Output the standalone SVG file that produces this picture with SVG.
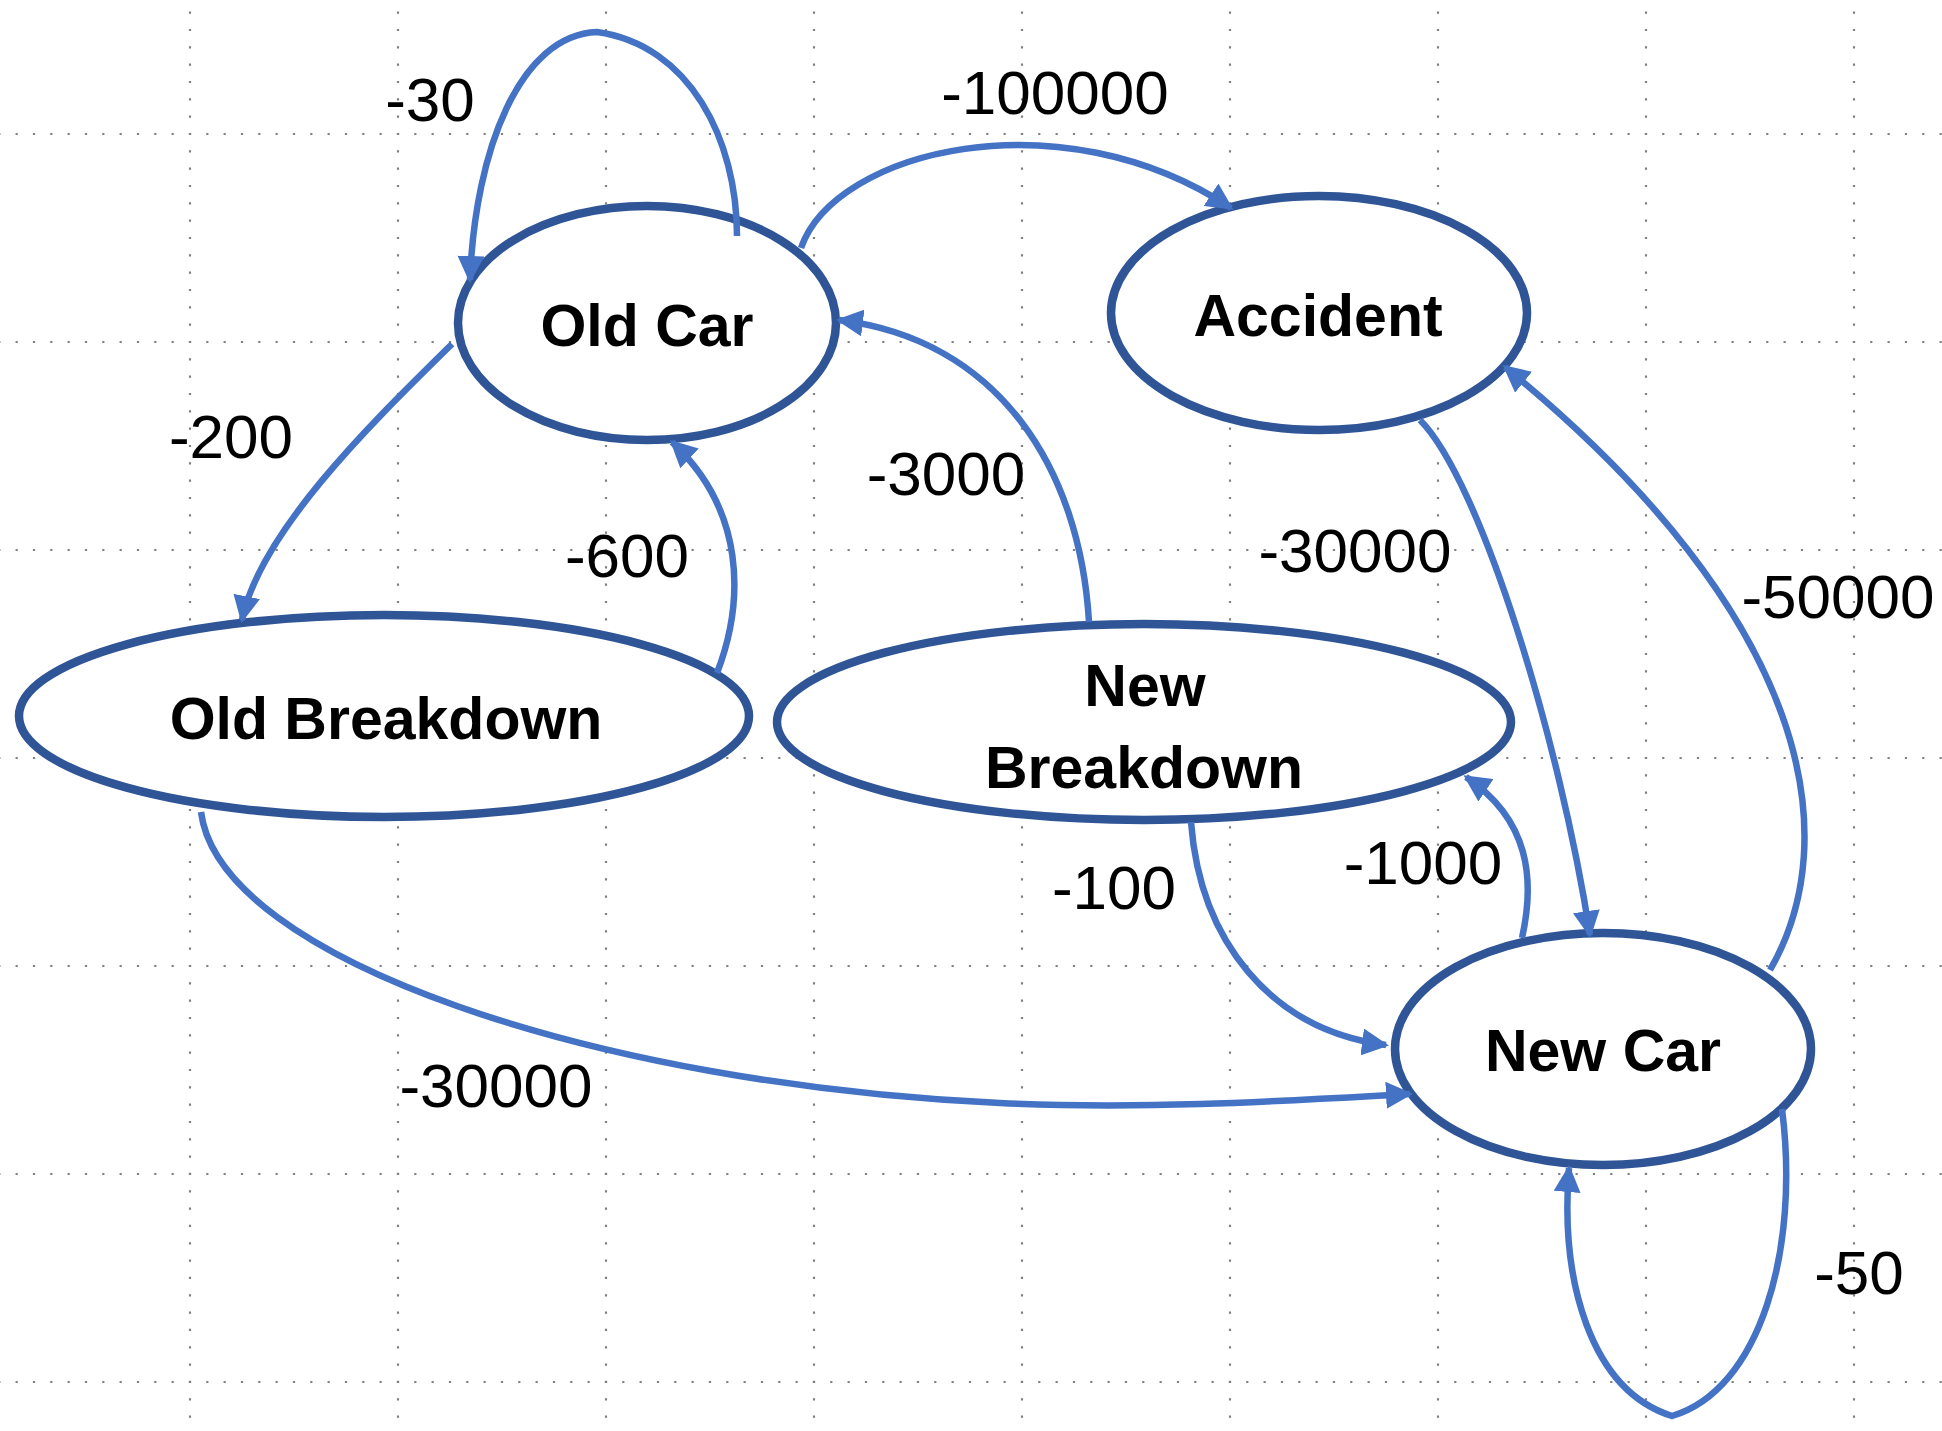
<svg xmlns="http://www.w3.org/2000/svg" width="1942" height="1431" viewBox="0 0 1942 1431">
<defs>
<style>
.grid line{stroke:#808080;stroke-width:2.2;}
.h{stroke-dasharray:2.2 15.133;stroke-dashoffset:1.77;}
.v{stroke-dasharray:2.2 15.133;stroke-dashoffset:5.77;}
.node ellipse{fill:#ffffff;stroke:#2F5597;stroke-width:8.5;}
.node text{font-family:"Liberation Sans",Arial,sans-serif;font-weight:bold;font-size:59px;fill:#000;text-anchor:middle;}
.edge{fill:none;stroke:#4472C4;stroke-width:6.5;marker-end:url(#arr);}
.lbl{font-family:"Liberation Sans",Arial,sans-serif;font-size:62px;fill:#000;text-anchor:middle;}
</style>
<marker id="arr" markerUnits="userSpaceOnUse" markerWidth="27" markerHeight="27" refX="24" refY="13.5" orient="auto">
<path d="M0,0 L27,13.5 L0,27 Z" fill="#4472C4"/>
</marker>
</defs>
<rect width="1942" height="1431" fill="#ffffff"/>
<g class="grid">
<line class="v" x1="190" y1="0" x2="190" y2="1431"/>
<line class="v" x1="398" y1="0" x2="398" y2="1431"/>
<line class="v" x1="606" y1="0" x2="606" y2="1431"/>
<line class="v" x1="814" y1="0" x2="814" y2="1431"/>
<line class="v" x1="1022" y1="0" x2="1022" y2="1431"/>
<line class="v" x1="1230" y1="0" x2="1230" y2="1431"/>
<line class="v" x1="1438" y1="0" x2="1438" y2="1431"/>
<line class="v" x1="1646" y1="0" x2="1646" y2="1431"/>
<line class="v" x1="1854" y1="0" x2="1854" y2="1431"/>
<line class="h" x1="0" y1="134" x2="1942" y2="134"/>
<line class="h" x1="0" y1="342" x2="1942" y2="342"/>
<line class="h" x1="0" y1="550" x2="1942" y2="550"/>
<line class="h" x1="0" y1="758" x2="1942" y2="758"/>
<line class="h" x1="0" y1="966" x2="1942" y2="966"/>
<line class="h" x1="0" y1="1174" x2="1942" y2="1174"/>
<line class="h" x1="0" y1="1382" x2="1942" y2="1382"/>
</g>
<g id="nodes">
<g id="old-car" class="node"><ellipse cx="647" cy="323" rx="189" ry="117"/><text x="647" y="346">Old Car</text></g>
<g id="accident" class="node"><ellipse cx="1319" cy="313" rx="208" ry="117"/><text x="1318" y="336">Accident</text></g>
<g id="old-breakdown" class="node"><ellipse cx="384" cy="716" rx="365" ry="101"/><text x="386" y="739">Old Breakdown</text></g>
<g id="new-breakdown" class="node"><ellipse cx="1144" cy="722" rx="367" ry="98"/><text x="1145" y="706">New</text><text x="1144" y="788">Breakdown</text></g>
<g id="new-car" class="node"><ellipse cx="1603" cy="1049" rx="208" ry="116"/><text x="1603" y="1071">New Car</text></g>
</g>
<g id="connectors">
<path class="edge" d="M 737 236 C 737 140, 690 45, 597 32 C 520 35, 475 150, 470 280"/>
<path class="edge" d="M 452 344 C 380 415, 260 530, 242 620"/>
<path class="edge" d="M 717 673 C 745 600, 745 510, 672 442"/>
<path class="edge" d="M 801 248 C 835 150, 1060 95, 1231 208"/>
<path class="edge" d="M 1089 622 C 1080 470, 1000 340, 839 320"/>
<path class="edge" d="M 1420 420 C 1480 480, 1560 740, 1590 935"/>
<path class="edge" d="M 1770 970 C 1845 840, 1815 620, 1505 367"/>
<path class="edge" d="M 1191 822 C 1200 940, 1270 1030, 1386 1045"/>
<path class="edge" d="M 1522 938 C 1535 880, 1530 820, 1466 777"/>
<path class="edge" d="M 201 812 C 220 960, 600 1085, 1000 1103 C 1150 1110, 1300 1100, 1410 1094"/>
<path class="edge" d="M 1782 1109 C 1800 1250, 1760 1390, 1672 1416 C 1590 1390, 1560 1280, 1569 1168"/>
</g>
<g id="labels">
<text class="lbl" x="430" y="121">-30</text>
<text class="lbl" x="1055" y="114">-100000</text>
<text class="lbl" x="231" y="458">-200</text>
<text class="lbl" x="627" y="577">-600</text>
<text class="lbl" x="946" y="495">-3000</text>
<text class="lbl" x="1355" y="572">-30000</text>
<text class="lbl" x="1838" y="618">-50000</text>
<text class="lbl" x="496" y="1107">-30000</text>
<text class="lbl" x="1114" y="909">-100</text>
<text class="lbl" x="1423" y="884">-1000</text>
<text class="lbl" x="1859" y="1294">-50</text>
</g>
</svg>
